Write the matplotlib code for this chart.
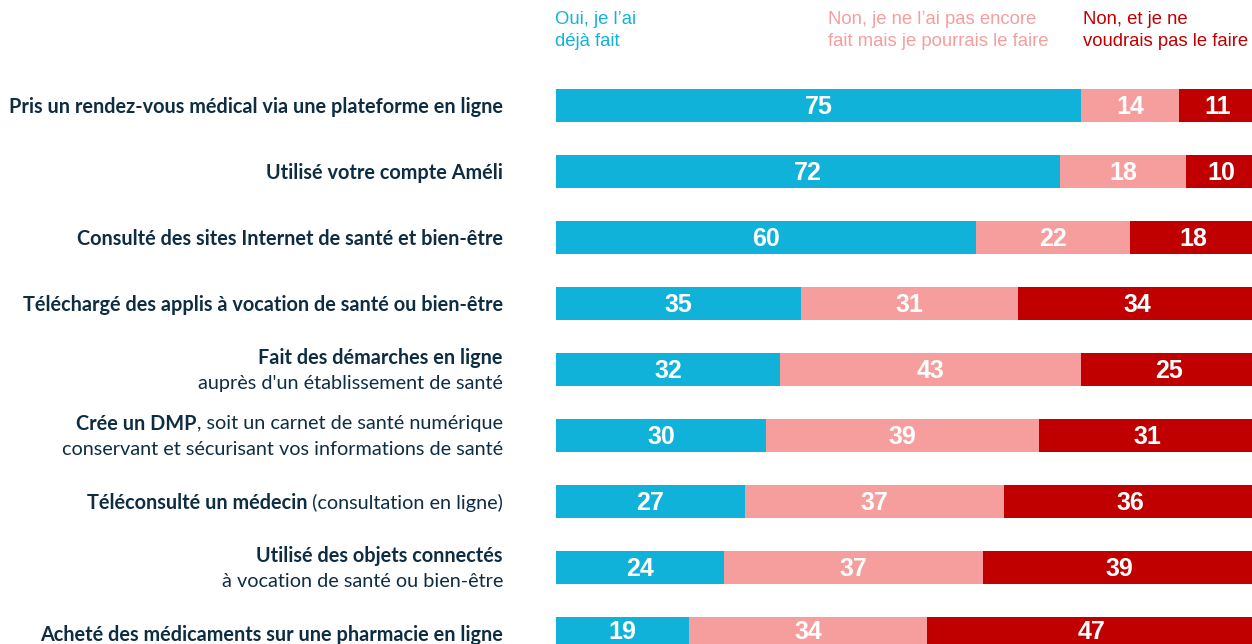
import matplotlib.pyplot as plt
import matplotlib.transforms as mtransforms

# data
bold_parts = ["Pris un rendez-vous médical via une plateforme en ligne",
              "Utilisé votre compte Améli",
              "Consulté des sites Internet de santé et bien-être",
              "Téléchargé des applis à vocation de santé ou bien-être",
              "Fait des démarches en ligne",
              "Crée un DMP",
              "Téléconsulté un médecin",
              "Utilisé des objets connectés",
              "Acheté des médicaments sur une pharmacie en ligne"]
# (suffix on same line, second line)
rest_parts = [("", ""), ("", ""), ("", ""), ("", ""),
              ("", "auprès d'un établissement de santé"),
              (", soit un carnet de santé numérique", "conservant et sécurisant vos informations de santé"),
              (" (consultation en ligne)", ""),
              ("", "à vocation de santé ou bien-être"),
              ("", "")]
oui = [75, 72, 60, 35, 32, 30, 27, 24, 19]
non_encore = [14, 18, 22, 31, 43, 39, 37, 37, 34]
non_jamais = [11, 10, 18, 34, 25, 31, 36, 39, 47]
series_names = ["Oui, je l’ai\ndéjà fait",
                "Non, je ne l’ai pas encore\nfait mais je pourrais le faire",
                "Non, et je ne\nvoudrais pas le faire"]
colors = ["#10b2da", "#f69e9e", "#c00000"]

W, H = 1252, 644
fig = plt.figure(figsize=(W / 100, H / 100), dpi=100)
ax = fig.add_axes([556 / W, 0, 700 / W, 1])
ax.set_xlim(0, 100)
ax.set_ylim((H - 105) / 66, -105 / 66)
ax.axis("off")

ypos = list(range(len(oui)))
left = [0] * len(oui)
for vals, c in zip([oui, non_encore, non_jamais], colors):
    bars = ax.barh(ypos, vals, left=left, height=0.5, color=c, edgecolor="none")
    labs = ax.bar_label(bars, label_type="center", color="white", fontsize=18,
                        fontweight="bold", family="Liberation Sans")
    for lab in labs:
        lab.xyann = (0, -1.5)
    left = [a + b for a, b in zip(left, vals)]

# legend texts at the top
leg_x = [555, 828, 1083]
for x, name, c in zip(leg_x, series_names, colors):
    fig.text(x / W, 1 - 11 / H, name, ha="left", va="top", color=c, fontsize=13.3,
             family="Liberation Sans", linespacing=1.42)

# row labels
txt_color = "#0e2d42"
fs = 14.3
fig.canvas.draw()
renderer = fig.canvas.get_renderer()
trans = mtransforms.blended_transform_factory(fig.transFigure, ax.transData)
xr = 503 / W
dy = 0.03
for i, (b, (suffix, line2)) in enumerate(zip(bold_parts, rest_parts)):
    y1 = (i - 0.197 if line2 else i) + dy
    xb = xr
    if suffix:
        t = fig.text(xr, y1, suffix, transform=trans, ha="right", va="center",
                     fontsize=fs, family="Lato", color=txt_color)
        bb = t.get_window_extent(renderer)
        xb = bb.x0 / W
    fig.text(xb, y1, b, transform=trans, ha="right", va="center",
             fontsize=fs, family="Lato", fontweight="bold", color=txt_color)
    if line2:
        fig.text(xr, i + 0.197 + dy, line2, transform=trans, ha="right", va="center",
                 fontsize=fs, family="Lato", color=txt_color)

fig.savefig("out.png", dpi=100)
